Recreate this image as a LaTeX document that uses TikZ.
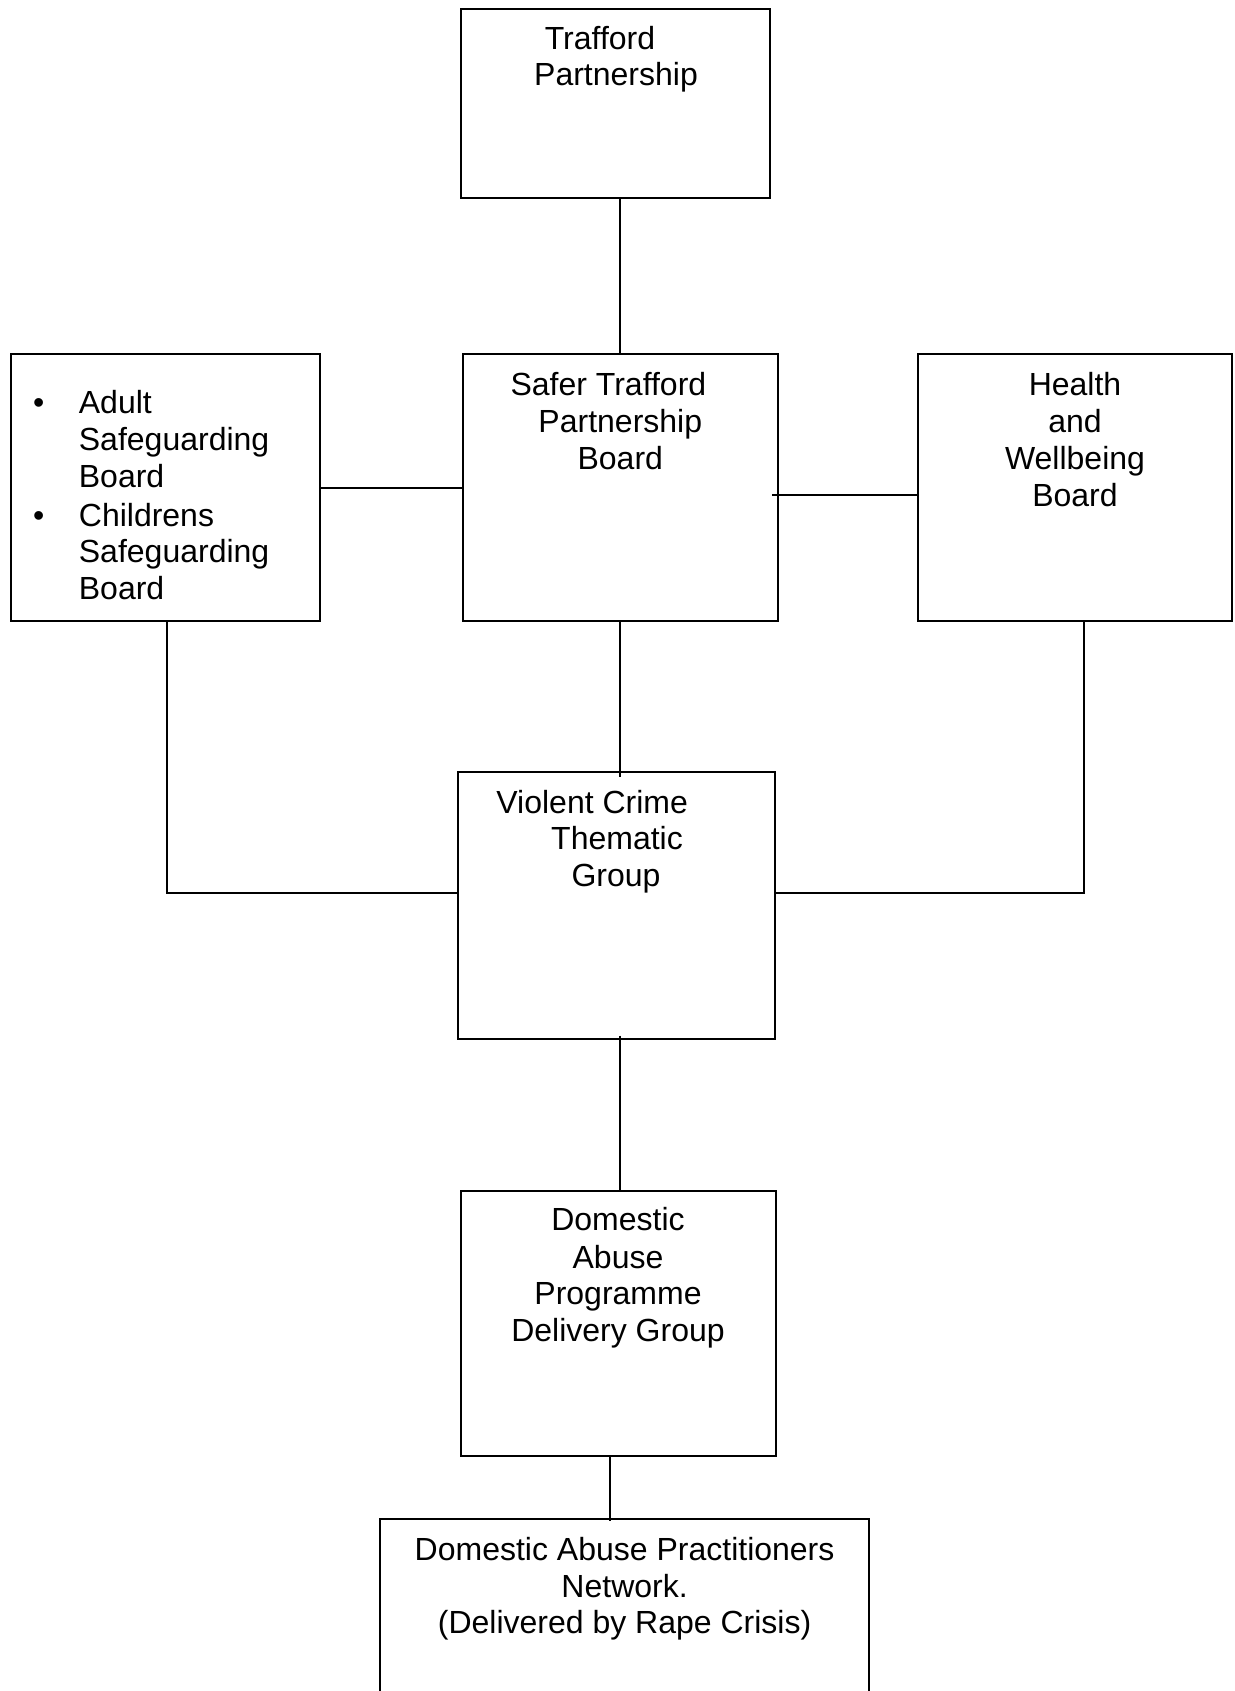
\documentclass[tikz,border=0pt]{standalone}
\usepackage{fontspec}
\setmainfont{Liberation Sans}
\usetikzlibrary{calc}
\begin{document}
\begin{tikzpicture}[x=1pt,y=-1pt,
  box/.style={draw=black,line width=2pt,rectangle,inner sep=0pt,outer sep=0pt,fill=white},
  conn/.style={draw=black,line width=2pt},
  txt/.style={font=\fontsize{32}{37}\selectfont,inner sep=0pt,text=black}]
\useasboundingbox[fill=white] (0,0) rectangle (1234,1691);
% boxes
\node[box,minimum width=309.6pt,minimum height=189.9pt] (tp) at (615.4,103.5) {};
\node[box,minimum width=315pt,minimum height=267.5pt] (stp) at (620.3,487.6) {};
\node[box,minimum width=309.6pt,minimum height=267.5pt] (lb) at (165.6,487.6) {};
\node[box,minimum width=313.9pt,minimum height=267.5pt] (hw) at (1075,487.6) {};
\node[box,minimum width=316.1pt,minimum height=266.4pt] (vc) at (616.5,905.6) {};
\node[box,minimum width=315pt,minimum height=265.3pt] (da) at (618.1,1323.5) {};
\node[box,minimum width=489.7pt,minimum height=220pt] (net) at (624.6,1628.9) {};
% connectors
\draw[conn] (tp.south -| stp.north) -- (stp.north);
\draw[conn] (stp.south) -- ($(vc.north -| stp.south)+(0,4.3)$);
\draw[conn] ($(vc.south -| stp.south)+(0,-3.2)$) -- (da.north -| stp.south);
\coordinate (dax) at (609.5,0);
\draw[conn] (da.south -| dax) -- ($(net.north -| dax)+(0,2)$);
\draw[conn] (lb.east) -- (lb.east -| stp.west);
\coordinate (hwy) at (0,495.1);
\draw[conn] ($(stp.east |- hwy)+(-5.4,0)$) -- (hw.west |- hwy);
\coordinate (ly) at (0,893.2);
\coordinate (lx) at (167.2,0);
\coordinate (rx) at (1084.1,0);
\draw[conn] (lb.south -| lx) -- (lx |- ly) -- (vc.west |- ly);
\draw[conn] (hw.south -| rx) -- (rx |- ly) -- (vc.east |- ly);
% texts
\node[txt,anchor=base] (t1) at (600,49.3) {Trafford};
\node[txt,anchor=base] (t2) at (616,86) {Partnership};
\node[txt,anchor=base] (s1) at (608.4,395) {Safer Trafford};
\node[txt,anchor=base] (s2) at (620.3,432) {Partnership};
\node[txt,anchor=base] (s3) at (620.3,469) {Board};
\node[txt,anchor=base] (h1) at (1075,395) {Health};
\node[txt,anchor=base] (h2) at (1075,432) {and};
\node[txt,anchor=base] (h3) at (1075,469) {Wellbeing};
\node[txt,anchor=base] (h4) at (1075,506) {Board};
\node[txt,anchor=base] (b1) at (38.8,413.9) {\textbullet};
\node[txt,anchor=base] (b2) at (38.8,526) {\textbullet};
\node[txt,anchor=base west] (l1) at (78.7,413.9) {Adult};
\node[txt,anchor=base west] (l2) at (78.7,450.5) {Safeguarding};
\node[txt,anchor=base west] (l3) at (78.7,487.2) {Board};
\node[txt,anchor=base west] (l4) at (78.7,526) {Childrens};
\node[txt,anchor=base west] (l5) at (78.7,562.7) {Safeguarding};
\node[txt,anchor=base west] (l6) at (78.7,599.4) {Board};
\node[txt,anchor=base] (v1) at (592.2,813) {Violent Crime};
\node[txt,anchor=base] (v2) at (617,849.6) {Thematic};
\node[txt,anchor=base] (v3) at (616,886.3) {Group};
\node[txt,anchor=base] (d1) at (618,1230.4) {Domestic};
\node[txt,anchor=base] (d2) at (618,1268.2) {Abuse};
\node[txt,anchor=base] (d3) at (618,1304.8) {Programme};
\node[txt,anchor=base] (d4) at (618,1341.5) {Delivery Group};
\node[txt,anchor=base] (n1) at (624.6,1560.5) {Domestic Abuse Practitioners};
\node[txt,anchor=base] (n2) at (624.6,1597.2) {Network.};
\node[txt,anchor=base] (n3) at (624.6,1633.9) {(Delivered by Rape Crisis)};
\end{tikzpicture}
\end{document}
